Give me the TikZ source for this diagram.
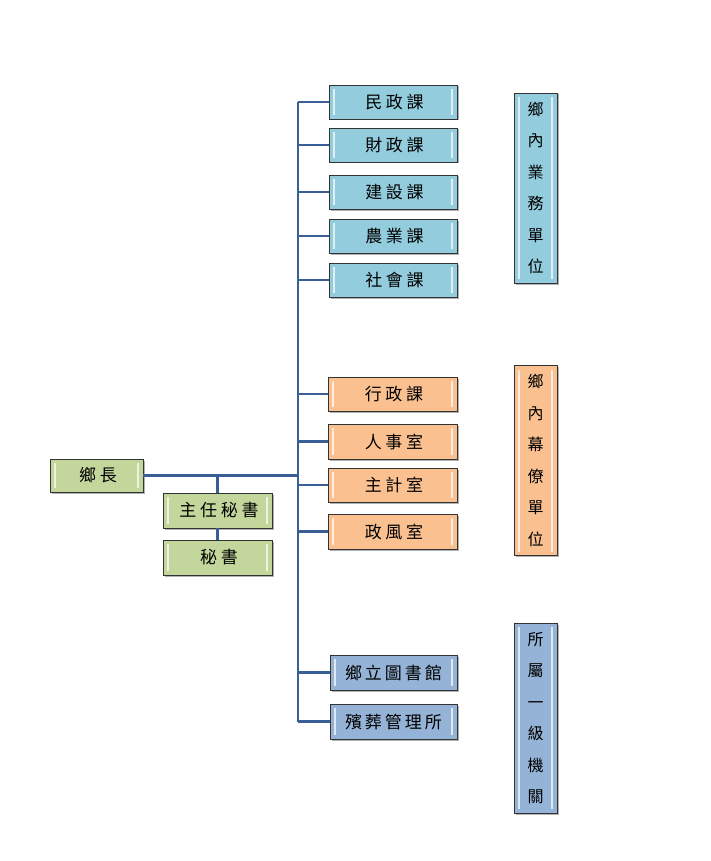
\documentclass[tikz,border=0pt]{standalone}
\usepackage{fontspec}
\newfontfamily\cjk[LetterSpace=22]{Noto Sans CJK TC}
\newfontfamily\cjkv{Noto Sans CJK TC}
\usetikzlibrary{shadows}
\definecolor{linec}{RGB}{58,95,150}
\definecolor{aqua}{HTML}{93CDDD}
\definecolor{orng}{HTML}{FAC090}
\definecolor{olive}{HTML}{C3D69B}
\definecolor{blu}{HTML}{95B3D7}
\tikzset{
  box/.style={draw=black!80, line width=0.9pt, inner sep=0pt,
    drop shadow={shadow xshift=1.5pt, shadow yshift=-1.5pt, opacity=0.3, fill=black},
    path picture={
      \draw[white, opacity=0.7, line width=1.8pt]
        ([xshift=5pt,yshift=-4pt]path picture bounding box.north west) --
        ([xshift=5pt,yshift=4pt]path picture bounding box.south west);
      \draw[white, opacity=0.7, line width=1.8pt]
        ([xshift=-5pt,yshift=-4pt]path picture bounding box.north east) --
        ([xshift=-5pt,yshift=4pt]path picture bounding box.south east);
    }},
  hbox/.style={box, minimum width=128pt, minimum height=34pt,
    font=\cjk\fontsize{17}{20}\selectfont},
  vbox/.style={box, minimum width=43pt, minimum height=190pt, align=center,
    font=\cjkv\fontsize{16}{31.5}\selectfont},
  conn/.style={draw=linec, line width=2.6pt},
}
\begin{document}
\begin{tikzpicture}[x=1pt,y=-1pt]
\useasboundingbox (0,0) rectangle (711,861);
% head
\node[hbox, fill=olive, minimum width=93pt, minimum height=33pt] (head) at (96.5,475.5) {\kern3pt 鄉長};
\node[hbox, fill=olive, minimum width=109pt, minimum height=35pt] (chief) at (217.5,510.5) {\kern3pt 主任秘書};
\node[hbox, fill=olive, minimum width=109pt, minimum height=35pt] (sec) at (217.5,557.5) {\kern3pt 秘書};
% blue
\node[hbox, fill=aqua] (a1) at (393,102) {\kern3pt 民政課};
\node[hbox, fill=aqua] (a2) at (393,145) {\kern3pt 財政課};
\node[hbox, fill=aqua] (a3) at (393,192) {\kern3pt 建設課};
\node[hbox, fill=aqua] (a4) at (393,236) {\kern3pt 農業課};
\node[hbox, fill=aqua] (a5) at (393,280) {\kern3pt 社會課};
% orange
\node[hbox, fill=orng, minimum width=129pt] (b1) at (392.5,394) {\kern3pt 行政課};
\node[hbox, fill=orng, minimum width=129pt, minimum height=35pt] (b2) at (392.5,441.5) {\kern3pt 人事室};
\node[hbox, fill=orng, minimum width=129pt] (b3) at (392.5,485) {\kern3pt 主計室};
\node[hbox, fill=orng, minimum width=129pt, minimum height=35pt] (b4) at (392.5,531.5) {\kern3pt 政風室};
% purple-blue
\node[hbox, fill=blu, minimum width=127pt, minimum height=35pt,
  font=\cjkv\fontsize{17}{20}\selectfont] (c1) at (393.5,672.5) {鄉\kern3pt立\kern3pt圖\kern3pt書\kern3pt館};
\node[hbox, fill=blu, minimum width=127pt, minimum height=35pt,
  font=\cjkv\fontsize{17}{20}\selectfont] (c2) at (393.5,721.5) {殯\kern3pt葬\kern3pt管\kern3pt理\kern3pt所};
% vertical labels
\node[vbox, fill=aqua] (v1) at (535.5,188) {鄉\\內\\業\\務\\單\\位};
\node[vbox, fill=orng] (v2) at (535.5,460.5) {鄉\\內\\幕\\僚\\單\\位};
\node[vbox, fill=blu] (v3) at (535.5,718) {所\\屬\\一\\級\\機\\關};
% trunk
\coordinate (ttop) at (298,102);
\coordinate (tbot) at (298,721.5);
\coordinate (tmid) at (298,475.5);
\coordinate (jn) at (217.5,475.5);
\draw[conn] (ttop) -- (tbot);
\draw[conn] (head.east) -- (tmid);
\draw[conn] (jn) -- (chief.north);
\draw[conn] (chief.south) -- (sec.north);
\foreach \n in {a1,a2,a3,a4,a5,b1,b2,b3,b4,c1,c2}{
  \draw[conn] (ttop |- \n.west) -- (\n.west);
}
\end{tikzpicture}
\end{document}
